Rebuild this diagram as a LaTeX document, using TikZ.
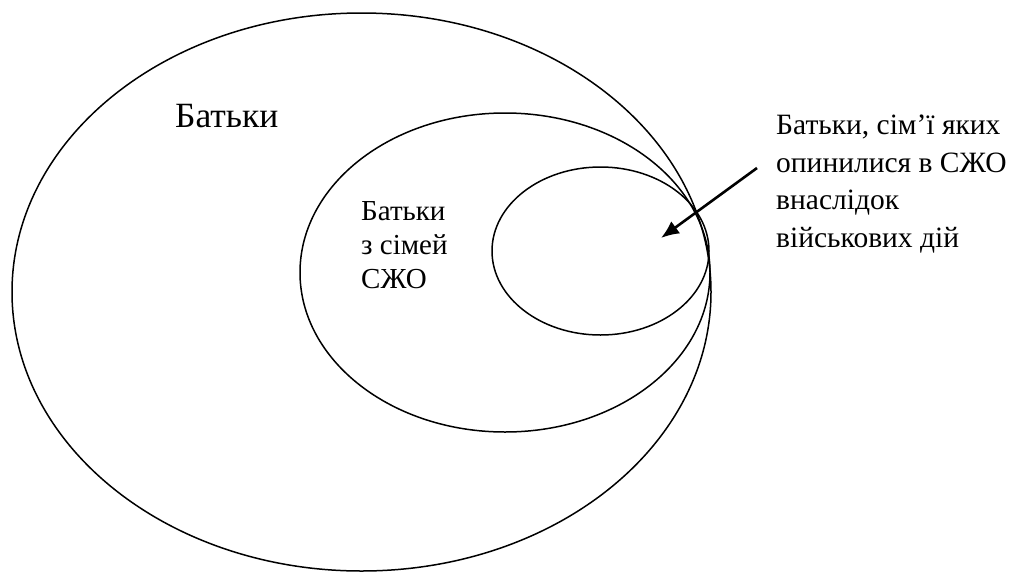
\documentclass[tikz,border=0pt]{standalone}
\usepackage{fontspec}
\setmainfont{Liberation Serif}
\usetikzlibrary{arrows.meta}

\begin{document}
\begin{tikzpicture}[x=1pt,y=-1pt,
	ring/.style={line width=1.5pt},
	label/.style={anchor=base west,inner sep=0pt,align=left}]
\clip (0,0) rectangle (1012,571);

\draw[ring] (361.5,292) ellipse [x radius=349.5, y radius=279];
\draw[ring] (505,272.5) ellipse [x radius=205, y radius=159.5];
\draw[ring] (600.5,251) ellipse [x radius=108.5, y radius=84];

\node[label,font=\fontsize{35.5}{40}\selectfont] (all) at (175,127) {Батьки};
\node[label,font=\fontsize{29}{34}\selectfont] (sjo) at (361,288) {Батьки\\з сімей\\СЖО};
\node[label,font=\fontsize{29.5}{37.5}\selectfont] (war) at (776,247) {Батьки, сім’ї яких\\опинилися в СЖО\\внаслідок\\військових дій};

\coordinate (tail) at (757,168);
\coordinate (tip) at (661,238);
\draw[line width=2.6pt,-{Latex[length=18pt,width=15pt]}] (tail) -- (tip);
\end{tikzpicture}
\end{document}
